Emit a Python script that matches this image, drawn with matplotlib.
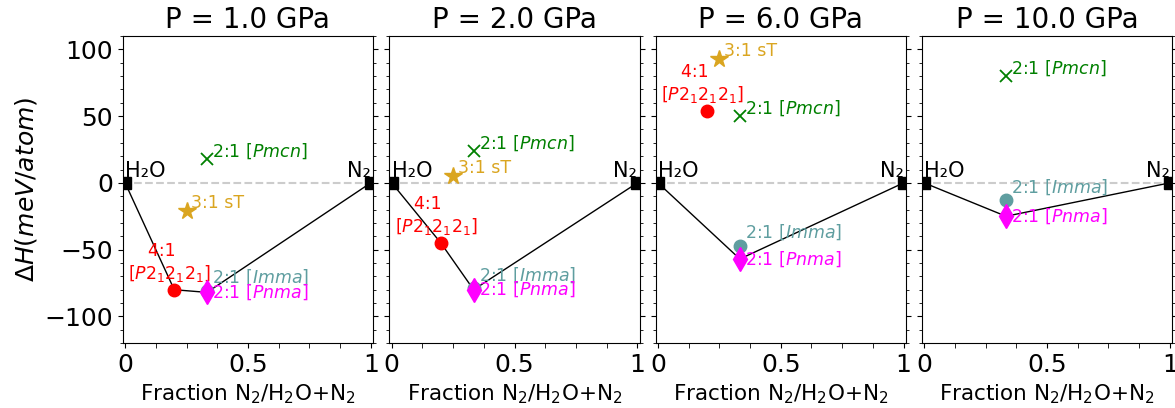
import numpy as np
import matplotlib
matplotlib.use("Agg")
import matplotlib.pyplot as plt
from matplotlib.ticker import MultipleLocator, FixedLocator, FixedFormatter

# ---- data ----
pressures = [1.0, 2.0, 6.0, 10.0]
x_41 = 0.2
x_31 = 0.25
x_21 = 1.0 / 3.0
dH_41 = [-80, -45, 54, None]          # 4:1 [P212121]
dH_31 = [-21, 5, 93, None]            # 3:1 sT
dH_pmcn = [18, 24, 50, 80]            # 2:1 [Pmcn]
dH_imma = [-81, -79, -47, -13]        # 2:1 [Imma]
dH_pnma = [-82, -80, -57, -25]        # 2:1 [Pnma]
# convex hull vertices per pressure
hull_x = [[0, 0.2, 1/3, 1], [0, 0.2, 1/3, 1], [0, 1/3, 1], [0, 1/3, 1]]
hull_y = [[0, -80, -82, 0], [0, -45, -80, 0], [0, -57, 0], [0, -25, 0]]
xtick_vals = [0, 0.5, 1]
xtick_labels = ["0", "0.5", "1"]

lab_41 = "4:1   \n[$P2_12_12_1$]"
lab_31 = "3:1 sT"
lab_pmcn = "2:1 [$Pmcn$]"
lab_imma = "2:1 [$Imma$]"
lab_pnma = "2:1 [$Pnma$]"

fig = plt.figure(figsize=(11.75, 4.08), dpi=100)
lefts = [0.1044, 0.3313, 0.5579, 0.7844]
width = 0.2132
bottom = 0.159
height = 0.7528
afs = 12.5

axes = []
for i, P in enumerate(pressures):
    ax = fig.add_axes([lefts[i], bottom, width, height],
                      sharey=axes[0] if axes else None)
    axes.append(ax)
    ax.axhline(0, color="#cccccc", ls="--", lw=1.5, zorder=1)
    ax.plot(hull_x[i], hull_y[i], color="black", lw=1, zorder=2)
    ax.plot([0, 1], [0, 0], ls="none", marker="s", color="black", ms=8.5, zorder=6)
    ax.text(0, 4.5, "H₂O", fontsize=15, ha="left", va="baseline", zorder=3)
    ax.text(1.0, 4.5, "N₂", fontsize=15, ha="right", va="baseline", zorder=3)

    if dH_41[i] is not None:
        ax.plot(x_41, dH_41[i], marker="o", color="red", ms=9, ls="none", zorder=4)
        ax.text(x_41 - 0.018, dH_41[i] + 4.5, lab_41, color="red", fontsize=afs,
                ha="center", va="bottom", multialignment="center")
    if dH_31[i] is not None:
        ax.plot(x_31, dH_31[i], marker="*", color="goldenrod", ms=13, ls="none", zorder=4)
        ax.text(x_31 + 0.02, dH_31[i] + 6, lab_31, color="goldenrod", fontsize=afs,
                ha="left", va="center")
    ax.plot(x_21, dH_pmcn[i], marker="x", color="green", ms=9, mew=1.3, ls="none", zorder=4)
    ax.text(x_21 + 0.022, dH_pmcn[i] + 6, lab_pmcn, color="green", fontsize=afs,
            ha="left", va="center")
    ax.plot(x_21, dH_imma[i], marker="o", color="cadetblue", ms=9, ls="none", zorder=4)
    ax.text(x_21 + 0.022, dH_imma[i] + 10, lab_imma, color="cadetblue", fontsize=afs,
            ha="left", va="center")
    ax.plot(x_21, dH_pnma[i], marker="d", color="magenta", ms=12, ls="none", zorder=5)
    ax.text(x_21 + 0.022, dH_pnma[i], lab_pnma, color="magenta", fontsize=afs,
            ha="left", va="center")

    ax.set_xlim(-0.01, 1.01)
    ax.set_ylim(-120, 110)
    ax.xaxis.set_major_locator(FixedLocator(xtick_vals))
    ax.xaxis.set_major_formatter(FixedFormatter(xtick_labels))
    ax.xaxis.set_minor_locator(MultipleLocator(0.125))
    ax.yaxis.set_major_locator(MultipleLocator(50))
    ax.yaxis.set_minor_locator(MultipleLocator(10))
    ax.tick_params(axis="both", which="both", labelsize=18)
    ax.tick_params(axis="y", which="both", left=True, right=True)
    ax.tick_params(axis="x", which="minor", length=3.5)
    if i > 0:
        ax.tick_params(axis="y", labelleft=False)
    ax.set_title(f"P = {P:.1f} GPa", fontsize=20)
    ax.set_xlabel("Fraction N$_2$/H$_2$O+N$_2$", fontsize=15.5)

axes[0].set_ylabel(r"$\Delta H (meV/atom)$", fontsize=18)

fig.savefig("out.png", dpi=100)
